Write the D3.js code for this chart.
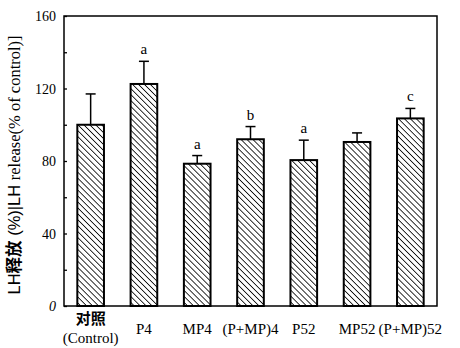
<!DOCTYPE html>
<html>
<head>
<meta charset="utf-8">
<script src="https://cdn.jsdelivr.net/npm/d3@7"></script>
<style>
  body { margin: 0; background: #fff; }
  text { font-family: "Liberation Serif", "Times New Roman", serif; fill: #000; }
</style>
</head>
<body>
<script>
// groups and values
var groups = ["对照", "P4", "MP4", "(P+MP)4", "P52", "MP52", "(P+MP)52"]
var means = [100, 122.5, 78.5, 92, 80.5, 90.5, 103.5]
var errs = [17, 12.5, 4.5, 7, 11, 5, 5.5]
var marks = ["", "a", "a", "b", "a", "", "c"]
var yTicks = [0, 40, 80, 120, 160]
var yMinor = [20, 60, 100, 140]

var W = 460, H = 348
var mLeft = 64, mRight = 437, mTop = 16, mBottom = 306

var svg = d3.select("body").append("svg")
    .attr("width", W)
    .attr("height", H)

// "\\\\" hatching
var defs = svg.append("defs")
var pat = defs.append("pattern")
    .attr("id", "hatch")
    .attr("patternUnits", "userSpaceOnUse")
    .attr("width", 4.2)
    .attr("height", 4.2)
    .attr("patternTransform", "rotate(-45)")
pat.append("rect").attr("width", 4.2).attr("height", 4.2).attr("fill", "white")
pat.append("line")
    .attr("x1", 0).attr("y1", 0).attr("x2", 0).attr("y2", 4.2)
    .attr("stroke", "black").attr("stroke-width", 1.6)

var x = d3.scaleBand()
    .domain(groups)
    .range([mLeft, mRight])
    .paddingInner(0.5)
    .paddingOuter(0.25)

var y = d3.scaleLinear()
    .domain([0, 160])
    .range([mBottom, mTop])

// frame
svg.append("rect")
    .attr("x", mLeft).attr("y", mTop)
    .attr("width", mRight - mLeft).attr("height", mBottom - mTop)
    .attr("fill", "none").attr("stroke", "black").attr("stroke-width", 1.5)

// y axis ticks (inward)
var yAxis = svg.append("g")
    .attr("transform", "translate(" + mLeft + ",0)")
    .call(d3.axisRight(y).tickValues(yTicks.concat(yMinor)).tickSize(3).tickFormat(""))
yAxis.select(".domain").remove()
yAxis.selectAll("line").attr("stroke-width", 1.3)

svg.selectAll(".ylab")
    .data(yTicks)
    .enter()
    .append("text")
    .attr("class", "ylab")
    .attr("x", mLeft - 8)
    .attr("y", d => y(d) + 5)
    .attr("text-anchor", "end")
    .style("font-size", "14px")
    .style("font-style", d => d === 0 ? "italic" : "normal")
    .text(d => d)

// error bars
var eb = svg.selectAll(".err")
    .data(groups)
    .enter()
    .append("g")
    .attr("class", "err")
eb.append("line")
    .attr("x1", d => x(d) + x.bandwidth() / 2)
    .attr("x2", d => x(d) + x.bandwidth() / 2)
    .attr("y1", (d, i) => y(means[i]))
    .attr("y2", (d, i) => y(means[i] + errs[i]))
    .attr("stroke", "black").attr("stroke-width", 1.5)
eb.append("line")
    .attr("x1", d => x(d) + x.bandwidth() / 2 - 5)
    .attr("x2", d => x(d) + x.bandwidth() / 2 + 5)
    .attr("y1", (d, i) => y(means[i] + errs[i]))
    .attr("y2", (d, i) => y(means[i] + errs[i]))
    .attr("stroke", "black").attr("stroke-width", 1.5)

// bars
svg.selectAll(".bar")
    .data(groups)
    .enter()
    .append("rect")
    .attr("class", "bar")
    .attr("x", d => x(d))
    .attr("y", (d, i) => y(means[i]))
    .attr("width", x.bandwidth())
    .attr("height", (d, i) => y(0) - y(means[i]))
    .attr("fill", "url(#hatch)")
    .attr("stroke", "black")
    .attr("stroke-width", 2)

// significance letters
svg.selectAll(".mark")
    .data(groups)
    .enter()
    .append("text")
    .attr("class", "mark")
    .attr("x", d => x(d) + x.bandwidth() / 2)
    .attr("y", (d, i) => y(means[i] + errs[i]) - 7)
    .attr("text-anchor", "middle")
    .style("font-size", "15px")
    .text((d, i) => marks[i])

// x labels
svg.selectAll(".xlab")
    .data(groups)
    .enter()
    .append("text")
    .attr("class", "xlab")
    .attr("x", d => x(d) + x.bandwidth() / 2)
    .attr("y", (d, i) => i === 0 ? 324 : 334)
    .attr("text-anchor", "middle")
    .style("font-size", "15px")
    .style("font-weight", (d, i) => i === 0 ? "bold" : "normal")
    .style("font-family", (d, i) => i === 0 ? "'Noto Sans CJK SC', sans-serif" : null)
    .text(d => d)

svg.append("text")
    .attr("x", x(groups[0]) + x.bandwidth() / 2)
    .attr("y", 343)
    .attr("text-anchor", "middle")
    .style("font-size", "15px")
    .text("(Control)")

// y title
var yt = svg.append("text")
    .attr("transform", "translate(20," + ((mTop + mBottom) / 2 + 4) + ") rotate(-90)")
    .attr("text-anchor", "middle")
    .style("font-size", "16.5px")
yt.append("tspan").style("font-family", "'Liberation Sans', sans-serif").text("LH")
yt.append("tspan").style("font-family", "'Noto Sans CJK SC', sans-serif").style("font-weight", "bold").text("释放")
yt.append("tspan").style("font-family", "'Liberation Sans', sans-serif").text(" (%)|LH ")
yt.append("tspan").text("release(% of control)]")
</script>
</body>
</html>
